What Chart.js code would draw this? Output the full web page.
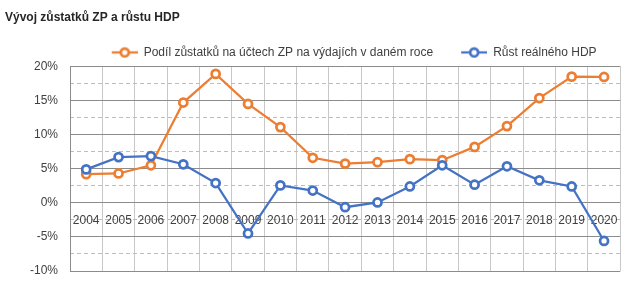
<!DOCTYPE html>
<html>
<head>
<meta charset="utf-8">
<script src="https://cdn.jsdelivr.net/npm/chart.js@4.4.1/dist/chart.umd.min.js"></script>
<style>
  body { margin: 0; background: #fff; }
  #wrap { position: relative; width: 627px; height: 283px; }
</style>
</head>
<body>
<div id="wrap"><canvas id="c"></canvas></div>
<script>
const years = ['2004','2005','2006','2007','2008','2009','2010','2011','2012','2013','2014','2015','2016','2017','2018','2019','2020'];
const podilZustatku = [4.2, 4.3, 5.5, 14.7, 18.9, 14.5, 11.1, 6.6, 5.75, 5.95, 6.4, 6.25, 8.2, 11.25, 15.35, 18.5, 18.45];
const rustHdp = [4.9, 6.7, 6.85, 5.65, 2.9, -4.5, 2.55, 1.8, -0.65, 0.05, 2.4, 5.5, 2.65, 5.35, 3.3, 2.4, -5.6];

const ORANGE = '#ED7D31';
const BLUE = '#4472C4';
const FONT = "'Liberation Sans', Arial, sans-serif";

// legend marker: short line with hollow circle, like Excel
// (left part of the image is empty so items get more room between them)
function legendMark(color) {
    const c = document.createElement('canvas');
    c.width = 44; c.height = 12;
    const g = c.getContext('2d');
    g.strokeStyle = color;
    g.lineWidth = 2.25;
    g.beginPath(); g.moveTo(18, 6); g.lineTo(44, 6); g.stroke();
    g.fillStyle = '#fff';
    g.lineWidth = 2.75;
    g.beginPath(); g.arc(31, 6, 4, 0, Math.PI * 2); g.fill(); g.stroke();
    return c;
}

// year labels sit just under the 0 % line
const yearLabels = {
    id: 'yearLabels',
    beforeDatasetsDraw(chart) {
        const {ctx, scales: {x, y}} = chart;
        const y0 = y.getPixelForValue(0) + 18;
        ctx.save();
        ctx.font = '12px ' + FONT;
        ctx.fillStyle = '#404040';
        ctx.textAlign = 'center';
        ctx.textBaseline = 'middle';
        years.forEach((lbl, i) => ctx.fillText(lbl, x.getPixelForValue(i), y0));
        ctx.restore();
    }
};

// pull the legend a bit closer to the plot
const legendTighten = {
    id: 'legendTighten',
    beforeUpdate(chart) {
        const lg = chart.legend;
        if (lg && !lg._tight) {
            const f = lg.fit;
            lg.fit = function() { f.call(this); this.height -= 2; };
            lg._tight = true;
        }
    }
};

new Chart(document.getElementById('c'), {
    type: 'line',
    data: {
        labels: years,
        datasets: [
            {
                label: 'Podíl zůstatků na účtech ZP na výdajích v daném roce',
                data: podilZustatku,
                borderColor: ORANGE,
                backgroundColor: '#fff',
                borderWidth: 2.25,
                pointRadius: 4,
                pointBorderWidth: 2.75,
                pointBackgroundColor: '#fff',
                pointStyle: 'circle',
                tension: 0,
                order: 1
            },
            {
                label: 'Růst reálného HDP',
                data: rustHdp,
                borderColor: BLUE,
                backgroundColor: '#fff',
                borderWidth: 2.25,
                pointRadius: 4,
                pointBorderWidth: 2.75,
                pointBackgroundColor: '#fff',
                pointStyle: 'circle',
                tension: 0,
                order: 0
            }
        ]
    },
    options: {
        responsive: true,
        maintainAspectRatio: false,
        animation: false,
        layout: { padding: { left: 5, right: 5, top: 0, bottom: 12 } },
        plugins: {
            title: {
                display: true,
                text: 'Vývoj zůstatků ZP a růstu HDP',
                align: 'start',
                color: '#262626',
                font: { family: FONT, size: 12, weight: 'bold' },
                padding: { top: 10, bottom: 12 }
            },
            legend: {
                position: 'top',
                fullSize: false,
                labels: {
                    usePointStyle: true,
                    pointStyleWidth: 44,
                    boxHeight: 12,
                    padding: 10,
                    color: '#404040',
                    font: { family: FONT, size: 12 },
                    generateLabels(chart) {
                        return chart.data.datasets.map((ds, i) => ({
                            text: ds.label,
                            datasetIndex: i,
                            pointStyle: legendMark(ds.borderColor),
                            fontColor: '#404040',
                            lineWidth: 0,
                            strokeStyle: 'transparent',
                            fillStyle: 'transparent'
                        }));
                    }
                }
            },
            tooltip: { enabled: false }
        },
        scales: {
            x: {
                offset: true,
                grid: { offset: true, color: '#C8C8C8', lineWidth: 1, drawTicks: false },
                border: { display: false },
                ticks: { display: false },
                afterFit(s) { s.height = 0; }
            },
            y: {
                position: 'left',
                min: -10,
                max: 20,
                ticks: {
                    stepSize: 5,
                    color: '#404040',
                    font: { family: FONT, size: 12 },
                    padding: 12,
                    callback: v => v + '%'
                },
                grid: { color: '#8C8C8C', lineWidth: 1, drawTicks: false },
                border: { color: '#8C8C8C' },
                afterFit(s) { s.width = 65; s.paddingTop = 0; s.paddingBottom = 0; }
            },
            yMinor: {
                position: 'left',
                min: -10,
                max: 20,
                ticks: { display: false, stepSize: 2.5 },
                grid: {
                    drawTicks: false,
                    lineWidth: 1,
                    color: c => (Math.abs(c.tick.value % 5) < 0.01 ? 'rgba(0,0,0,0)' : '#BDBDBD')
                },
                border: { display: false, dash: [4, 3] },
                afterFit(s) { s.width = 0; s.paddingTop = 0; s.paddingBottom = 0; }
            }
        }
    },
    plugins: [yearLabels, legendTighten]
});
</script>
</body>
</html>
